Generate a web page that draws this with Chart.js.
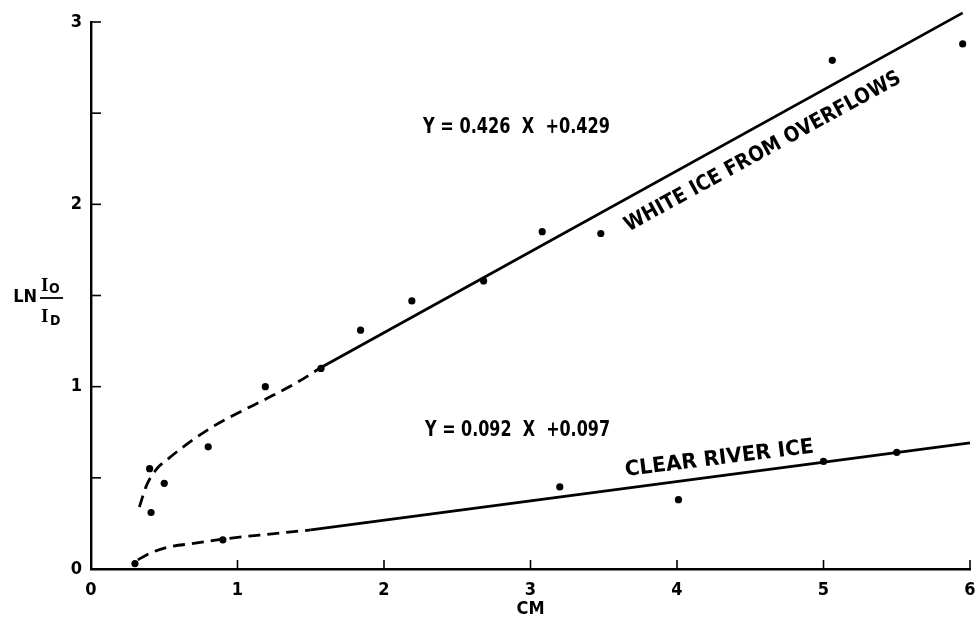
<!DOCTYPE html>
<html>
<head>
<meta charset="utf-8">
<script src="https://cdn.jsdelivr.net/npm/chart.js@4.4.1/dist/chart.umd.min.js"></script>
<style>
  html, body { margin: 0; padding: 0; background: #fff; }
  #wrap { width: 976px; height: 626px; }
</style>
</head>
<body>
<div id="wrap"><canvas id="iceChart" width="976" height="626"></canvas></div>
<script>
// measured points (thickness in cm vs ln(Io/Id))
const whiteX = [0.40, 0.41, 0.50, 0.80, 1.19, 1.57, 1.84, 2.19, 2.68, 3.08, 3.48, 5.06, 5.95];
const whiteY = [0.55, 0.31, 0.47, 0.67, 1.00, 1.10, 1.31, 1.47, 1.58, 1.85, 1.84, 2.79, 2.88];
const clearX = [0.30, 0.90, 3.20, 4.01, 5.00, 5.50];
const clearY = [0.03, 0.16, 0.45, 0.38, 0.59, 0.64];

// fitted lines
const whiteFitX = [1.57, 5.95];
const whiteFitY = [1.105, 3.05];
const clearFitX = [1.50, 6.00];
const clearFitY = [0.214, 0.692];

// hand drawn dashed curves near the origin
const whiteCurveX = [0.33, 0.38, 0.45, 0.52, 0.63, 0.81, 0.99, 1.20, 1.40, 1.57];
const whiteCurveY = [0.34, 0.46, 0.55, 0.60, 0.67, 0.77, 0.85, 0.935, 1.02, 1.105];
const clearCurveX = [0.32, 0.40, 0.54, 0.70, 0.90, 1.15, 1.50];
const clearCurveY = [0.05, 0.086, 0.122, 0.14, 0.164, 0.186, 0.214];

const xTicks = [0, 1, 2, 3, 4, 5, 6];
const yTicks = [0, 0.5, 1, 1.5, 2, 2.5, 3];

function pts(xs, ys) {
  return xs.map((x, i) => ({ x: x, y: ys[i] }));
}

const FONT = '"DejaVu Sans Condensed", "DejaVu Sans", "Liberation Sans", sans-serif';

function fitText(ctx, text, x, y, angle, width, size) {
  ctx.save();
  ctx.translate(x, y);
  ctx.rotate(angle * Math.PI / 180);
  ctx.font = 'bold ' + size + 'px ' + FONT;
  const w = ctx.measureText(text).width;
  ctx.scale(width / w, 1);
  ctx.fillText(text, 0, 0);
  ctx.restore();
}

// short tick marks pointing into the plot, like the original drawing
const innerTicks = {
  id: 'innerTicks',
  afterDraw(chart) {
    const ctx = chart.ctx;
    const xs = chart.scales.x, ys = chart.scales.y;
    ctx.save();
    ctx.strokeStyle = '#000';
    ctx.lineWidth = 1.6;
    yTicks.forEach(v => {
      const py = ys.getPixelForValue(v);
      ctx.beginPath();
      ctx.moveTo(xs.left, py);
      ctx.lineTo(xs.left + 10, py);
      ctx.stroke();
    });
    xTicks.forEach(v => {
      if (v === 0) return;
      const px = xs.getPixelForValue(v);
      ctx.beginPath();
      ctx.moveTo(px, ys.bottom);
      ctx.lineTo(px, ys.bottom - 9);
      ctx.stroke();
    });
    ctx.restore();
  }
};

const labels = {
  id: 'labels',
  afterDatasetsDraw(chart) {
    const ctx = chart.ctx;
    const xs = chart.scales.x, ys = chart.scales.y;
    const X = v => xs.getPixelForValue(v);
    const Y = v => ys.getPixelForValue(v);
    ctx.save();
    ctx.fillStyle = '#000';

    ctx.textBaseline = 'middle';
    ctx.textAlign = 'left';
    fitText(ctx, 'Y = 0.426  X  +0.429', X(2.266), Y(2.42), 0, 187, 21);
    fitText(ctx, 'Y = 0.092  X  +0.097', X(2.28), Y(0.762), 0, 185, 21);

    ctx.textBaseline = 'alphabetic';
    fitText(ctx, 'WHITE ICE FROM OVERFLOWS', X(3.67), Y(1.85), -28.7, 312, 21);
    fitText(ctx, 'CLEAR RIVER ICE', X(3.65), Y(0.51), -7.1, 190, 21);

    // y axis title: LN Io / Id
    ctx.font = 'bold 18px ' + FONT;
    ctx.textAlign = 'right';
    ctx.textBaseline = 'middle';
    ctx.fillText('LN', 37, 297);
    ctx.textAlign = 'left';
    ctx.textBaseline = 'alphabetic';
    ctx.font = 'bold 19px "Liberation Serif", serif';
    ctx.fillText('I', 41, 291);
    ctx.fillText('I', 41, 322);
    ctx.font = 'bold 14px ' + FONT;
    ctx.fillText('O', 49, 293);
    ctx.fillText('D', 50, 325);
    ctx.lineWidth = 1.8;
    ctx.beginPath();
    ctx.moveTo(40, 298);
    ctx.lineTo(63, 298);
    ctx.stroke();
    ctx.restore();
  }
};

const ctx = document.getElementById('iceChart');

new Chart(ctx, {
  type: 'scatter',
  data: {
    datasets: [
      {
        label: 'White ice points',
        data: pts(whiteX, whiteY),
        pointRadius: 3.6,
        pointBackgroundColor: '#000',
        pointBorderWidth: 0
      },
      {
        label: 'Clear ice points',
        data: pts(clearX, clearY),
        pointRadius: 3.6,
        pointBackgroundColor: '#000',
        pointBorderWidth: 0
      },
      {
        label: 'White ice fit',
        data: pts(whiteFitX, whiteFitY),
        showLine: true,
        pointRadius: 0,
        borderColor: '#000',
        borderWidth: 2.8,
        clip: false
      },
      {
        label: 'Clear ice fit',
        data: pts(clearFitX, clearFitY),
        showLine: true,
        pointRadius: 0,
        borderColor: '#000',
        borderWidth: 2.8,
        clip: false
      },
      {
        label: 'White ice curve',
        data: pts(whiteCurveX, whiteCurveY),
        showLine: true,
        pointRadius: 0,
        borderColor: '#000',
        borderWidth: 2.8,
        borderDash: [12, 7],
        cubicInterpolationMode: 'monotone'
      },
      {
        label: 'Clear ice curve',
        data: pts(clearCurveX, clearCurveY),
        showLine: true,
        pointRadius: 0,
        borderColor: '#000',
        borderWidth: 2.8,
        borderDash: [12, 7],
        cubicInterpolationMode: 'monotone'
      }
    ]
  },
  options: {
    responsive: false,
    animation: false,
    devicePixelRatio: 1,
    layout: { padding: { top: 22, right: 6, left: 0, bottom: 0 } },
    plugins: {
      legend: { display: false },
      tooltip: { enabled: false }
    },
    scales: {
      x: {
        type: 'linear',
        min: 0,
        max: 6,
        afterBuildTicks: s => { s.ticks = xTicks.map(v => ({ value: v })); },
        afterFit: s => { s.height = 57; s.paddingLeft = 0; s.paddingRight = 0; },
        grid: { display: false, drawTicks: false },
        border: { display: true, color: '#000', width: 2.4 },
        ticks: {
          color: '#000',
          padding: 11,
          maxRotation: 0,
          font: { family: FONT, size: 18, weight: 'bold' }
        },
        title: {
          display: true,
          text: 'CM',
          color: '#000',
          font: { family: FONT, size: 18, weight: 'bold' },
          padding: { top: 0, bottom: 6 }
        }
      },
      y: {
        type: 'linear',
        min: 0,
        max: 3,
        afterBuildTicks: s => { s.ticks = yTicks.map(v => ({ value: v })); },
        afterFit: s => { s.width = 91; s.paddingTop = 0; s.paddingBottom = 0; },
        grid: { display: false, drawTicks: false },
        border: { display: true, color: '#000', width: 2.4 },
        ticks: {
          color: '#000',
          padding: 9,
          font: { family: FONT, size: 18, weight: 'bold' },
          callback: v => (Number.isInteger(v) ? String(v) : '')
        }
      }
    }
  },
  plugins: [innerTicks, labels]
});
</script>
</body>
</html>
